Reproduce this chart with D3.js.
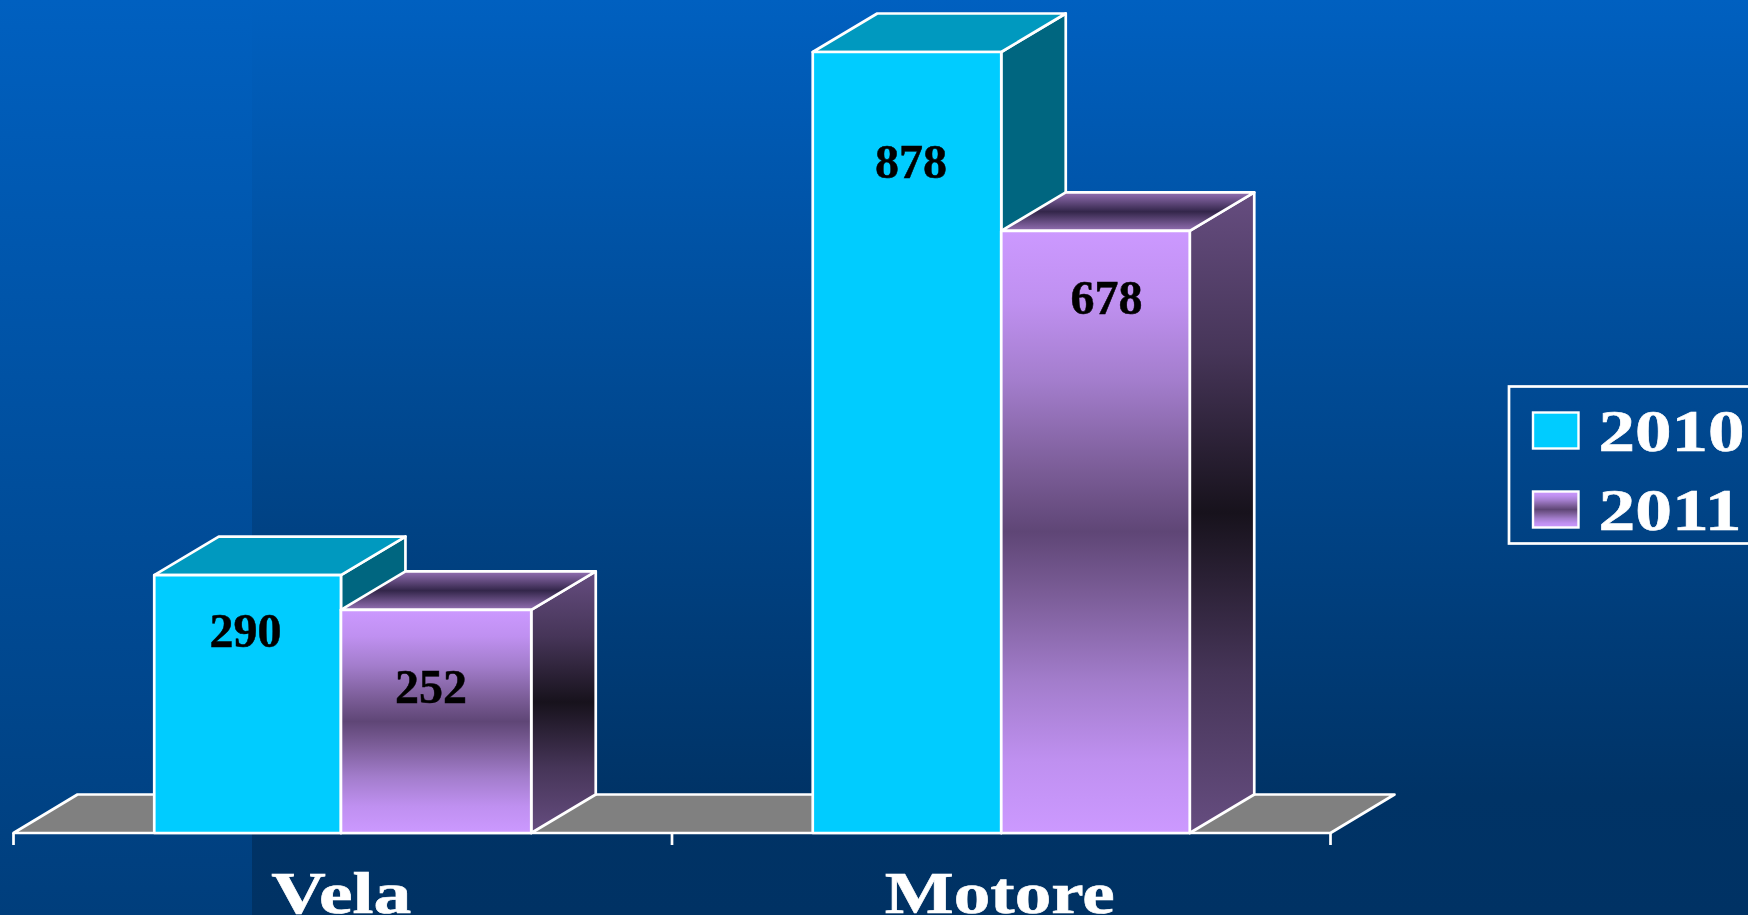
<!DOCTYPE html>
<html><head><meta charset="utf-8">
<script src="https://cdn.jsdelivr.net/npm/d3@7"></script>
<style>html,body{margin:0;padding:0;overflow:hidden;background:#003366}svg{display:block}</style>
</head><body>
<script>
// ---- data ----
const categories = ["Vela", "Motore"];
const years = ["2010", "2011"];
const values2010 = [290, 878];
const values2011 = [252, 678];

// ---- layout ----
const W = 1748, H = 915;
const x0 = d3.scaleBand().domain(categories).range([13.5, 1330.5]);
const halfBar = 188.5;
const x1 = d3.scaleBand().domain(years).range([-halfBar, halfBar]);
const y = d3.scaleLinear().domain([0, 878]).range([833, 52]);
const depth = {dx: 64.5, dy: -38.5};
const floorDepth = {dx: 64, dy: -38.5};
const dividerNudge = [-1.8, 0];        // the middle edge of each pair sits slightly off-centre in the source
const seriesTopNudge = [0, 1];         // the 2011 front faces start a hair lower
// hand-placed labels in the source, per category/series: [dx from bar centre, dy from bar top]
const labelNudge = [[[-3, 72], [-6, 94]], [[4, 126], [11, 84]]];

const svg = d3.select("body").append("svg").attr("width", W).attr("height", H);
const defs = svg.append("defs");
function grad(id, stops) {
  const g = defs.append("linearGradient").attr("id", id)
    .attr("x1", 0).attr("y1", 0).attr("x2", 0).attr("y2", 1);
  stops.forEach(([o, c]) => g.append("stop").attr("offset", o).attr("stop-color", c));
}
grad("bgR", [[0, "#0060c0"], [0.87, "#003366"], [1, "#003264"]]);
grad("bgL", [[0, "#0060c0"], [1, "#003e7c"]]);
grad("purpleFront", [[0, "#cc99ff"], [0.12, "#bf90f0"], [0.25, "#a37dcc"], [0.4, "#7a5c96"], [0.5, "#5f4676"],
                     [0.6, "#7a5c96"], [0.75, "#a37dcc"], [0.88, "#bf90f0"], [1, "#cc99ff"]]);
grad("purpleSide", [[0, "#664d80"], [0.25, "#463558"], [0.5, "#17121c"], [0.75, "#463558"], [1, "#664d80"]]);
grad("purpleTop", [[0, "#9470b4"], [0.5, "#33264a"], [1, "#9470b4"]]);

svg.append("rect").attr("width", W).attr("height", H).attr("fill", "url(#bgR)");
svg.append("rect").attr("width", 252).attr("height", H).attr("fill", "url(#bgL)");

const STROKE = {stroke: "#fff", "stroke-width": 2.7, "stroke-linejoin": "round"};
const styled = (s) => { Object.entries(STROKE).forEach(([k, v]) => s.attr(k, v)); return s; };
const line = d3.line();
const poly = (pts) => line(pts) + "Z";

// floor
const floorL = x0.range()[0], floorR = x0.range()[1], base = y(0);
styled(svg.append("path")
  .attr("d", poly([[floorL, base], [floorL + floorDepth.dx, base + floorDepth.dy], [floorR + floorDepth.dx, base + floorDepth.dy], [floorR, base]]))
  .attr("fill", "#808080"));

// category ticks
const tickXs = [floorL, ...categories.map(c => x0(c) + x0.bandwidth())];
svg.append("g").selectAll("line").data(tickXs).join("line")
  .attr("x1", d => d).attr("x2", d => d).attr("y1", base).attr("y2", base + 12)
  .attr("stroke", "#fff").attr("stroke-width", 2.7);

// bars
const series = [
  {year: years[0], values: values2010, front: "#00ccff", side: "#006680", top: "#0099bf"},
  {year: years[1], values: values2011, front: "url(#purpleFront)", side: "url(#purpleSide)", top: "url(#purpleTop)"}
];
const cells = [];
categories.forEach((c, i) => series.forEach((s, j) => cells.push({c, i, j, s, v: s.values[i]})));
const centre = (d) => x0(d.c) + x0.bandwidth() / 2;
const bars = svg.append("g").selectAll("g").data(cells).join("g");
bars.each(function (d) {
  const g = d3.select(this);
  const xl = centre(d) + x1(d.s.year) + (d.j === 1 ? dividerNudge[d.i] : 0);
  const xr = centre(d) + x1(d.s.year) + x1.bandwidth() + (d.j === 0 ? dividerNudge[d.i] : 0);
  const yt = y(d.v) + seriesTopNudge[d.j], yb = y(0);
  const {dx, dy} = depth;
  styled(g.append("path").attr("d", poly([[xr, yb], [xr, yt], [xr + dx, yt + dy], [xr + dx, yb + dy]])).attr("fill", d.s.side));
  styled(g.append("path").attr("d", poly([[xl, yt], [xl + dx, yt + dy], [xr + dx, yt + dy], [xr, yt]])).attr("fill", d.s.top));
  styled(g.append("rect").attr("x", xl).attr("y", yt).attr("width", xr - xl).attr("height", yb - yt).attr("fill", d.s.front));
});

// value labels
bars.append("text")
  .attr("x", d => centre(d) + x1(d.s.year) + x1.bandwidth() / 2 + labelNudge[d.i][d.j][0])
  .attr("y", d => y(d.v) + labelNudge[d.i][d.j][1])
  .attr("text-anchor", "middle")
  .attr("font-family", "'Liberation Serif'").attr("font-weight", "bold").attr("font-size", 49)
  .attr("fill", "#000").attr("stroke", "#000").attr("stroke-width", 0.5)
  .attr("textLength", 72).attr("lengthAdjust", "spacingAndGlyphs")
  .text(d => d.v);

// category labels
svg.append("g").selectAll("text").data(categories).join("text")
  .attr("x", d => x0(d) + x0.bandwidth() / 2 - 1.5)
  .attr("y", 913)
  .attr("text-anchor", "middle")
  .attr("font-family", "'Liberation Serif'").attr("font-weight", "bold").attr("font-size", 60)
  .attr("fill", "#fff").attr("stroke", "#fff").attr("stroke-width", 0.6)
  .attr("textLength", d => d === "Vela" ? 140 : 230)
  .attr("lengthAdjust", "spacingAndGlyphs")
  .text(d => d);

// legend
const legend = svg.append("g");
legend.append("rect").attr("x", 1509).attr("y", 386.5).attr("width", 300).attr("height", 157)
  .attr("fill", "none").attr("stroke", "#fff").attr("stroke-width", 2.7);
const legY = d3.scalePoint().domain(years).range([451, 530]);
legend.selectAll("rect.sw").data(series).join("rect").attr("class", "sw")
  .attr("x", 1533).attr("y", d => legY(d.year) - 38.5).attr("width", 45.5).attr("height", 36)
  .attr("fill", (d, i) => i ? "url(#purpleFront)" : "#00ccff")
  .attr("stroke", "#fff").attr("stroke-width", 2.4);
legend.selectAll("text").data(years).join("text")
  .attr("x", 1598.5).attr("y", d => legY(d))
  .attr("font-family", "'Liberation Serif'").attr("font-weight", "bold").attr("font-size", 60)
  .attr("fill", "#fff").attr("stroke", "#fff").attr("stroke-width", 0.6)
  .attr("textLength", d => d === "2010" ? 146 : 143)
  .attr("lengthAdjust", "spacingAndGlyphs")
  .text(d => d);
</script>
</body></html>
